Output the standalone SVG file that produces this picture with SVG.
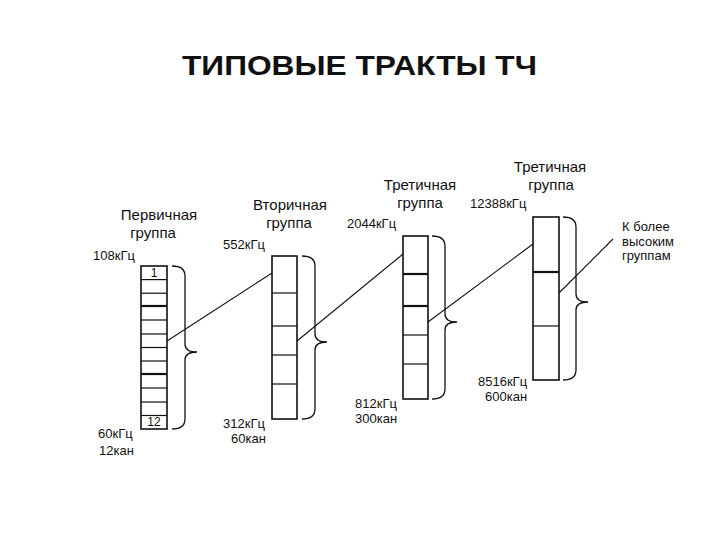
<svg xmlns="http://www.w3.org/2000/svg" width="720" height="540" viewBox="0 0 720 540">
<style>
text{font-family:"Liberation Sans",Arial,sans-serif;fill:#111}
.t{font-size:28px;font-weight:bold}
.h{font-size:15px}
.f{font-size:13px}
.n{font-size:12px}
.box{fill:#fff;stroke:#111;stroke-width:1.6}
.div{stroke:#111;stroke-width:1.2}
.thk{stroke:#111;stroke-width:2.2}
.br{fill:none;stroke:#111;stroke-width:1.3}
.con{stroke:#111;stroke-width:1.1;fill:none}
</style>
<rect width="720" height="540" fill="#fff"/>
<text class="t" x="182" y="75" textLength="355" lengthAdjust="spacingAndGlyphs">ТИПОВЫЕ ТРАКТЫ ТЧ</text>

<g id="primary">
<text class="h" x="159" y="220" text-anchor="middle">Первичная</text>
<text class="h" x="153" y="238" text-anchor="middle">группа</text>
<text class="f" x="93" y="260">108кГц</text>
<rect class="box" x="141" y="266" width="26" height="163"/>
<line class="div" x1="141" y1="279.6" x2="167" y2="279.6"/>
<line class="div" x1="141" y1="293.2" x2="167" y2="293.2"/>
<line class="thk" x1="141" y1="306" x2="167" y2="306"/>
<line class="div" x1="141" y1="320" x2="167" y2="320"/>
<line class="div" x1="141" y1="334" x2="167" y2="334"/>
<line class="div" x1="141" y1="347.5" x2="167" y2="347.5"/>
<line class="div" x1="141" y1="361" x2="167" y2="361"/>
<line class="thk" x1="141" y1="374" x2="167" y2="374"/>
<line class="div" x1="141" y1="388" x2="167" y2="388"/>
<line class="div" x1="141" y1="402" x2="167" y2="402"/>
<line class="div" x1="141" y1="415.5" x2="167" y2="415.5"/>
<text class="n" x="154" y="277" text-anchor="middle">1</text>
<text class="n" x="154" y="426" text-anchor="middle">12</text>
<path class="br" d="M172,266 Q185,266 185,276 L185,344 Q185,352 197,352 Q185,352 185,360 L185,419 Q185,429 172,429"/>
<text class="f" x="98" y="438">60кГц</text>
<text class="f" x="99" y="455">12кан</text>
</g>

<g id="secondary">
<text class="h" x="290" y="210" text-anchor="middle">Вторичная</text>
<text class="h" x="289" y="228" text-anchor="middle">группа</text>
<text class="f" x="223" y="249">552кГц</text>
<rect class="box" x="272" y="256" width="25" height="163"/>
<line class="div" x1="272" y1="293" x2="297" y2="293"/>
<line class="div" x1="272" y1="326" x2="297" y2="326"/>
<line class="div" x1="272" y1="355" x2="297" y2="355"/>
<line class="div" x1="272" y1="384" x2="297" y2="384"/>
<path class="br" d="M302,256 Q315,256 315,266 L315,334 Q315,342 327,342 Q315,342 315,350 L315,409 Q315,419 302,419"/>
<text class="f" x="223" y="428">312кГц</text>
<text class="f" x="231" y="443">60кан</text>
</g>

<g id="tertiary">
<text class="h" x="420" y="190" text-anchor="middle">Третичная</text>
<text class="h" x="420" y="208" text-anchor="middle">группа</text>
<text class="f" x="347" y="228">2044кГц</text>
<rect class="box" x="403" y="236" width="25" height="163"/>
<line class="thk" x1="403" y1="274" x2="428" y2="274"/>
<line class="thk" x1="403" y1="306" x2="428" y2="306"/>
<line class="div" x1="403" y1="335" x2="428" y2="335"/>
<line class="div" x1="403" y1="364" x2="428" y2="364"/>
<path class="br" d="M432,236 Q445,236 445,246 L445,314 Q445,322 457,322 Q445,322 445,330 L445,389 Q445,399 432,399"/>
<text class="f" x="355" y="408">812кГц</text>
<text class="f" x="355" y="423">300кан</text>
</g>

<g id="tertiary2">
<text class="h" x="550" y="172" text-anchor="middle">Третичная</text>
<text class="h" x="551" y="190" text-anchor="middle">группа</text>
<text class="f" x="470" y="208">12388кГц</text>
<rect class="box" x="533" y="217" width="26" height="163"/>
<line class="thk" x1="533" y1="272" x2="559" y2="272"/>
<line class="div" x1="533" y1="326" x2="559" y2="326"/>
<path class="br" d="M563,217 Q576,217 576,227 L576,294 Q576,302 588,302 Q576,302 576,310 L576,370 Q576,380 563,380"/>
<text class="f" x="478" y="386">8516кГц</text>
<text class="f" x="485" y="401">600кан</text>
</g>

<g id="higher">
<text class="f" x="622" y="231">К более</text>
<text class="f" x="622" y="246">высоким</text>
<text class="f" x="622" y="260">группам</text>
</g>

<g id="connectors">
<line class="con" x1="167" y1="341" x2="272" y2="273"/>
<line class="con" x1="297" y1="341" x2="403" y2="254"/>
<line class="con" x1="428" y1="322" x2="533" y2="244"/>
<line class="con" x1="559" y1="293" x2="613" y2="239"/>
</g>
</svg>
